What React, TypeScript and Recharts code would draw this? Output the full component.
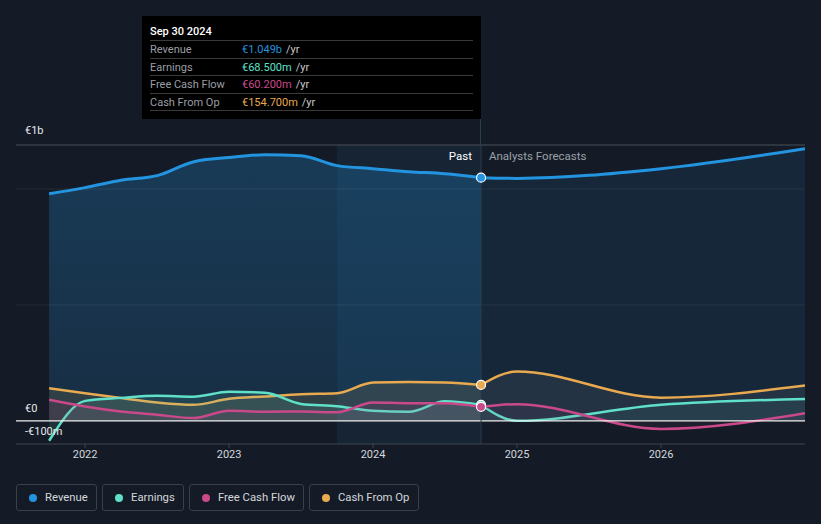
import React from 'react';
import {
  ComposedChart,
  Area,
  XAxis,
  YAxis,
  ReferenceLine,
  ReferenceArea,
} from 'recharts';

// past (TTM, quarterly) values in € millions
const pastYears = [2021.75, 2022, 2022.25, 2022.5, 2022.75, 2023, 2023.25, 2023.5, 2023.75, 2024, 2024.25, 2024.5, 2024.75];
const revenuePast = [980, 1006, 1038, 1058, 1117, 1136, 1148, 1144, 1101, 1088, 1075, 1066, 1049];
const earningsPast = [-86, 86, 99, 108, 104, 125, 121, 73, 63, 43, 39, 84, 68.5];
const fcfPast = [91, 62, 40, 26, 12, 43, 39, 40, 37, 79, 76, 76, 60.2];
const cfoPast = [141, 119, 98, 79, 69, 95, 105, 115, 119, 165, 167, 165, 154.7];

// analyst forecasts (first point = last reported)
const forecastYears = [2024.75, 2025, 2026, 2027];
const revenueFc = [1049, 1046, 1088, 1174];
const earningsFc = [68.5, 0, 69, 94];
const fcfFc = [60.2, 72, -35, 33];
const cfoFc = [154.7, 213, 100, 152];

const xTicks = [2022, 2023, 2024, 2025, 2026];
const yGrid = [500, 1000];
const Y_DOMAIN: [number, number] = [-100, 1190];
const X_DOMAIN: [number, number] = [2021.52, 2027];
const NOW = 2024.75;
const BAND_START = 2023.75;

const C = {
  revenue: '#2394df',
  earnings: '#5fe0c9',
  fcf: '#c9498a',
  cfo: '#e8a94f',
  bg: '#151b26',
};

type Row = { x: number; [k: string]: number };

const rows: Row[] = [];
pastYears.forEach((x, i) => {
  rows.push({ x, revP: revenuePast[i], earnP: earningsPast[i], fcfP: fcfPast[i], cfoP: cfoPast[i] });
});
forecastYears.forEach((x, i) => {
  const existing = rows.find((r) => r.x === x);
  const vals = { revF: revenueFc[i], earnF: earningsFc[i], fcfF: fcfFc[i], cfoF: cfoFc[i] };
  if (existing) Object.assign(existing, vals);
  else rows.push({ x, ...vals });
});

const FONT = 'Roboto, "Noto Sans", sans-serif';
const lastIdx = pastYears.length - 1;

const nowDot = (color: string) => (p: any) =>
  p.index === lastIdx ? (
    <circle key={`d${p.index}`} cx={p.cx} cy={p.cy} r={4.5} fill={color} stroke="#fff" strokeWidth={1.2} />
  ) : (
    <g key={`d${p.index}`} />
  );

const tooltipRows = [
  { label: 'Revenue', value: '€1.049b', color: C.revenue },
  { label: 'Earnings', value: '€68.500m', color: C.earnings },
  { label: 'Free Cash Flow', value: '€60.200m', color: C.fcf },
  { label: 'Cash From Op', value: '€154.700m', color: C.cfo },
];

const legendItems = [
  { label: 'Revenue', color: C.revenue, w: 81 },
  { label: 'Earnings', color: C.earnings, w: 82 },
  { label: 'Free Cash Flow', color: C.fcf, w: 115 },
  { label: 'Cash From Op', color: C.cfo, w: 110 },
];

const yLabel = (text: string, top: number) => (
  <div style={{ position: 'absolute', left: 25, top, fontSize: 11, color: '#e6e8eb' }}>{text}</div>
);

export default function App() {
  return (
    <div
      style={{
        position: 'absolute',
        left: 0,
        top: 0,
        width: 821,
        height: 524,
        background: C.bg,
        fontFamily: FONT,
        overflow: 'hidden',
      }}
    >
      <div style={{ position: 'absolute', left: 0, top: 0 }}>
        <ComposedChart width={821} height={470} data={rows} margin={{ top: 145, right: 16, left: 16, bottom: 0 }}>
          <defs>
            <linearGradient id="revPast" x1="0" y1="0" x2="0" y2="1">
              <stop offset="0%" stopColor={C.revenue} stopOpacity={0.26} />
              <stop offset="100%" stopColor={C.revenue} stopOpacity={0.16} />
            </linearGradient>
          </defs>
          <XAxis
            dataKey="x"
            type="number"
            domain={X_DOMAIN}
            ticks={xTicks}
            allowDataOverflow
            height={26}
            axisLine={{ stroke: '#3e4550' }}
            tickLine={{ stroke: '#3e4550' }}
            tickSize={4}
            tick={{ fill: '#d4d7dc', fontSize: 11, fontFamily: FONT }}
            tickFormatter={(v) => String(v)}
          />
          <YAxis hide type="number" domain={Y_DOMAIN} allowDataOverflow />

          <ReferenceArea x1={BAND_START} x2={NOW} y1={Y_DOMAIN[0]} y2={Y_DOMAIN[1]} fill={C.revenue} fillOpacity={0.08} stroke="none" />

          <Area type="monotone" dataKey="revP" stroke={C.revenue} strokeWidth={3} fill="url(#revPast)" fillOpacity={1} baseValue={0} isAnimationActive={false} dot={nowDot(C.revenue)} activeDot={false} />
          <Area type="monotone" dataKey="revF" stroke={C.revenue} strokeWidth={3} fill={C.revenue} fillOpacity={0.1} baseValue={0} isAnimationActive={false} dot={false} activeDot={false} />

          <Area type="monotone" dataKey="cfoP" stroke={C.cfo} strokeWidth={2.5} fill={C.cfo} fillOpacity={0.12} baseValue={0} isAnimationActive={false} dot={false} activeDot={false} />
          <Area type="monotone" dataKey="cfoF" stroke={C.cfo} strokeWidth={2.5} fill="#9aa0a8" fillOpacity={0.1} baseValue={0} isAnimationActive={false} dot={false} activeDot={false} />
          <Area type="monotone" dataKey="earnP" stroke={C.earnings} strokeWidth={2.5} fill={C.earnings} fillOpacity={0.12} baseValue={0} isAnimationActive={false} dot={false} activeDot={false} />
          <Area type="monotone" dataKey="earnF" stroke={C.earnings} strokeWidth={2.5} fill={C.earnings} fillOpacity={0.07} baseValue={0} isAnimationActive={false} dot={false} activeDot={false} />
          <Area type="monotone" dataKey="fcfP" stroke={C.fcf} strokeWidth={2.5} fill={C.fcf} fillOpacity={0.1} baseValue={0} isAnimationActive={false} dot={false} activeDot={false} />
          <Area type="monotone" dataKey="fcfF" stroke={C.fcf} strokeWidth={2.5} fill={C.fcf} fillOpacity={0.07} baseValue={0} isAnimationActive={false} dot={false} activeDot={false} />

          {yGrid.map((v) => (
            <ReferenceLine key={v} y={v} stroke="#ffffff" strokeOpacity={0.07} />
          ))}
          <ReferenceLine y={Y_DOMAIN[1]} stroke="#4a505a" />
          <ReferenceLine y={0} stroke="#f0f0f0" strokeWidth={1.2} />
          <ReferenceLine x={NOW} stroke="#2a3d52" />

          {/* dots on top of the other lines */}
          <Area type="monotone" dataKey="cfoP" stroke="none" fill="none" isAnimationActive={false} dot={nowDot(C.cfo)} activeDot={false} />
          <Area type="monotone" dataKey="earnP" stroke="none" fill="none" isAnimationActive={false} dot={nowDot(C.earnings)} activeDot={false} />
          <Area type="monotone" dataKey="fcfP" stroke="none" fill="none" isAnimationActive={false} dot={nowDot(C.fcf)} activeDot={false} />
        </ComposedChart>
      </div>

      {/* short stub of the "now" line up to the tooltip */}
      <div style={{ position: 'absolute', left: 480, top: 119, width: 1, height: 26, background: '#2a3d52' }} />

      {yLabel('€1b', 124)}
      {yLabel('€0', 402)}
      {yLabel('-€100m', 425)}

      <div style={{ position: 'absolute', left: 400, width: 72, top: 149, textAlign: 'right', fontSize: 11.5, color: '#ffffff' }}>Past</div>
      <div style={{ position: 'absolute', left: 489, top: 149, fontSize: 11.5, color: '#9aa0a8' }}>Analysts Forecasts</div>

      {/* tooltip */}
      <div
        style={{
          position: 'absolute',
          left: 142,
          top: 16,
          width: 339,
          height: 103,
          background: '#000',
          boxSizing: 'border-box',
          padding: '0 8px',
          fontSize: 11,
        }}
      >
        <div style={{ height: 24, lineHeight: '31px', color: '#fff', fontWeight: 500, borderBottom: '1px solid #3a3a3a' }}>Sep 30 2024</div>
        {tooltipRows.map((r) => (
          <div key={r.label} style={{ display: 'flex', height: 16.5, lineHeight: '18px', borderBottom: '1px solid #3a3a3a' }}>
            <span style={{ width: 92, color: '#9a9ea4' }}>{r.label}</span>
            <span style={{ color: r.color }}>{r.value}</span>
            <span style={{ color: '#c8cacd', marginLeft: 4 }}>/yr</span>
          </div>
        ))}
      </div>

      {/* legend */}
      <div style={{ position: 'absolute', left: 16, top: 484, display: 'flex', gap: 5 }}>
        {legendItems.map((l) => (
          <div
            key={l.label}
            style={{
              display: 'flex',
              alignItems: 'center',
              width: l.w,
              height: 27,
              boxSizing: 'border-box',
              padding: '0 0 0 12px',
              border: '1px solid #3a404a',
              borderRadius: 3,
              fontSize: 11.3,
              color: '#d4d7dc',
            }}
          >
            <span style={{ width: 8, height: 8, borderRadius: 4, background: l.color, marginRight: 8, flexShrink: 0 }} />
            {l.label}
          </div>
        ))}
      </div>
    </div>
  );
}
